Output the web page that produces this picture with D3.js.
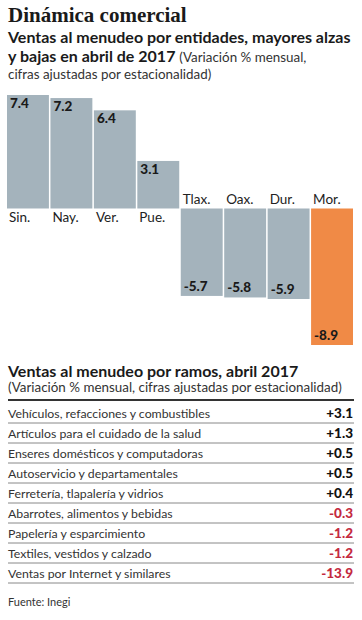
<!DOCTYPE html>
<html>
<head>
<meta charset="utf-8">
<script src="https://cdn.jsdelivr.net/npm/d3@7"></script>
<style>
  body { margin: 0; background: #fff; }
  text { font-family: Lato, "Open Sans", sans-serif; }
</style>
</head>
<body>
<script>
// estados con mayores alzas y bajas
const estados = ["Sin.", "Nay.", "Ver.", "Pue.", "Tlax.", "Oax.", "Dur.", "Mor."];
const variacion = [7.4, 7.2, 6.4, 3.1, -5.7, -5.8, -5.9, -8.9];
const destacado = ["Mor."];

// tabla por ramos
const ramos = [
  "Vehículos, refacciones y combustibles",
  "Artículos para el cuidado de la salud",
  "Enseres domésticos y computadoras",
  "Autoservicio y departamentales",
  "Ferretería, tlapalería y vidrios",
  "Abarrotes, alimentos y bebidas",
  "Papelería y esparcimiento",
  "Textiles, vestidos y calzado",
  "Ventas por Internet y similares"
];
const ramosValores = [3.1, 1.3, 0.5, 0.5, 0.4, -0.3, -1.2, -1.2, -13.9];

const width = 362, height = 620;
// guion normal en vez del signo menos unicode
const fmt = v => d3.format(".1f")(v).replace("\u2212", "-");

const svg = d3.select("body").append("svg")
    .attr("width", width)
    .attr("height", height);

// titulos
svg.append("text")
    .attr("x", 8).attr("y", 22)
    .style("font-family", "'Liberation Serif', serif")
    .style("font-weight", "bold")
    .style("font-size", "21px")
    .attr("fill", "#1a1a1a")
    .text("Dinámica comercial");

svg.append("text")
    .attr("x", 8).attr("y", 43)
    .style("font-weight", "bold").style("font-size", "16px")
    .attr("fill", "#1a1a1a")
    .text("Ventas al menudeo por entidades, mayores alzas");

const sub2 = svg.append("text")
    .attr("x", 8).attr("y", 62)
    .attr("fill", "#1a1a1a");
sub2.append("tspan").style("font-weight", "bold").style("font-size", "16px")
    .text("y bajas en abril de 2017 ");
sub2.append("tspan").style("font-size", "13.4px").attr("fill", "#333")
    .text("(Variación % mensual,");

svg.append("text")
    .attr("x", 8).attr("y", 79)
    .style("font-size", "13.4px").attr("fill", "#333")
    .text("cifras ajustadas por estacionalidad)");

// barras
const x = d3.scaleBand()
    .domain(estados)
    .range([7, 353])
    .paddingInner(0.035);

const y = d3.scaleLinear()
    .domain([-8.9, 7.4])
    .range([345, 95]);

const datos = estados.map((e, i) => ({ estado: e, valor: variacion[i] }));

const g = svg.append("g");

g.selectAll(".bar")
    .data(datos)
  .enter().append("rect")
    .attr("class", "bar")
    .attr("x", d => x(d.estado))
    .attr("width", x.bandwidth())
    .attr("y", d => y(Math.max(0, d.valor)))
    .attr("height", d => Math.abs(y(d.valor) - y(0)))
    .attr("fill", d => destacado.includes(d.estado) ? "#f08a46" : "#a4b3bc");

g.selectAll(".valor")
    .data(datos)
  .enter().append("text")
    .attr("class", "valor")
    .attr("x", d => x(d.estado) + 3)
    .attr("y", d => d.valor >= 0 ? y(d.valor) + 13 : y(d.valor) - 5)
    .style("font-weight", "900").style("font-size", "13.5px")
    .attr("fill", "#1a1a1a")
    .text(d => fmt(d.valor));

g.selectAll(".estado")
    .data(datos)
  .enter().append("text")
    .attr("class", "estado")
    .attr("x", d => x(d.estado) + 2)
    .attr("y", d => d.valor >= 0 ? y(0) + 14 : y(0) - 4)
    .style("font-size", "13.5px")
    .attr("fill", "#222")
    .text(d => d.estado);

// tabla
svg.append("text")
    .attr("x", 8).attr("y", 377)
    .style("font-weight", "bold").style("font-size", "16px")
    .attr("fill", "#1a1a1a")
    .text("Ventas al menudeo por ramos, abril 2017");

svg.append("text")
    .attr("x", 8).attr("y", 392)
    .style("font-size", "13.4px").attr("fill", "#333")
    .text("(Variación % mensual, cifras ajustadas por estacionalidad)");

svg.append("line")
    .attr("x1", 8).attr("x2", 354)
    .attr("y1", 400).attr("y2", 400)
    .attr("stroke", "#333").attr("stroke-width", 2);

const fila = d3.scaleBand()
    .domain(ramos)
    .range([403, 583]);

const filas = svg.selectAll(".fila")
    .data(ramos.map((r, i) => ({ ramo: r, valor: ramosValores[i] })))
  .enter().append("g")
    .attr("class", "fila")
    .attr("transform", d => `translate(0,${fila(d.ramo)})`);

filas.append("text")
    .attr("x", 8).attr("y", fila.bandwidth() / 2 + 4.5)
    .style("font-size", "12.3px").attr("fill", "#333")
    .text(d => d.ramo);

filas.append("text")
    .attr("x", 353).attr("y", fila.bandwidth() / 2 + 4.5)
    .attr("text-anchor", "end")
    .style("font-weight", "900").style("font-size", "13.5px")
    .attr("fill", d => d.valor >= 0 ? "#111" : "#c42a3f")
    .text(d => (d.valor > 0 ? "+" : "") + fmt(d.valor));

filas.append("line")
    .attr("x1", 8).attr("x2", 354)
    .attr("y1", fila.bandwidth()).attr("y2", fila.bandwidth())
    .attr("stroke", "#888").attr("stroke-width", 1);

svg.append("text")
    .attr("x", 8).attr("y", 606)
    .style("font-size", "11px").attr("fill", "#333")
    .text("Fuente: Inegi");
</script>
</body>
</html>
